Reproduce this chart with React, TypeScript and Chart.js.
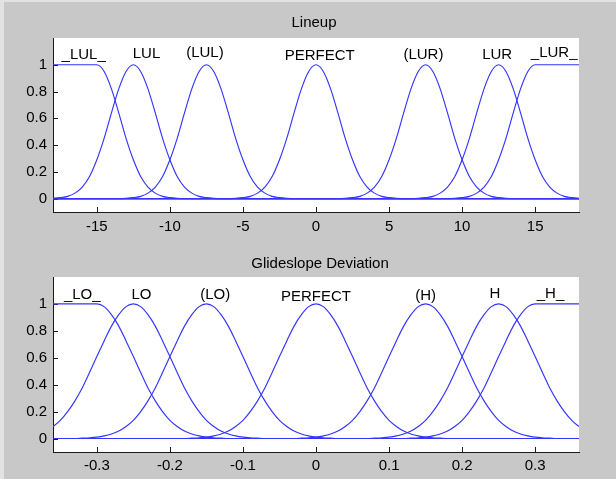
import React, { useEffect, useRef } from "react";
import { Chart, registerables } from "chart.js";

Chart.register(...registerables);

// ---------- shared y axis ----------
const yRange = [-0.1, 1.2];
const yTicks = [0, 0.2, 0.4, 0.6, 0.8, 1];
const yTickLabels = ["0", "0.2", "0.4", "0.6", "0.8", "1"];

// ---------- Lineup ----------
const lineupTitle = "Lineup";
const lineupRange = [-18, 18];
const lineupTicks = [-15, -10, -5, 0, 5, 10, 15];
const lineupTickLabels = ["-15", "-10", "-5", "0", "5", "10", "15"];
const lineupNames = ["_LUL_", "LUL", "(LUL)", "PERFECT", "(LUR)", "LUR", "_LUR_"];
const lineupCenters = [-15, -12.5, -7.5, 0, 7.5, 12.5, 15];
const lineupShapes = ["left", "bell", "bell", "bell", "bell", "bell", "right"];
const lineupLabelX = [-15.9, -11.6, -7.6, 0.25, 7.35, 12.4, 16.3];
const lineupLabelY = [1.044, 1.052, 1.055, 1.035, 1.044, 1.044, 1.055];
// membership value read at distances from the peak
const lineupOffsets = [0, 0.5, 1, 1.5, 2, 2.5, 3, 3.5, 4, 4.5, 5, 5.5, 6];
const lineupProfile = [1, 0.95, 0.82, 0.64, 0.45, 0.29, 0.165, 0.086, 0.041, 0.017, 0.007, 0.002, 0];

// ---------- Glideslope Deviation ----------
const glideTitle = "Glideslope Deviation";
const glideRange = [-0.36, 0.36];
const glideTicks = [-0.3, -0.2, -0.1, 0, 0.1, 0.2, 0.3];
const glideTickLabels = ["-0.3", "-0.2", "-0.1", "0", "0.1", "0.2", "0.3"];
const glideNames = ["_LO_", "LO", "(LO)", "PERFECT", "(H)", "H", "_H_"];
const glideCenters = [-0.3, -0.25, -0.15, 0, 0.15, 0.25, 0.3];
const glideShapes = ["left", "bell", "bell", "bell", "bell", "bell", "right"];
const glideLabelX = [-0.32, -0.239, -0.138, 0.0, 0.15, 0.245, 0.321];
const glideLabelY = [1.037, 1.037, 1.04, 1.019, 1.032, 1.045, 1.045];
const glideOffsets = [0, 0.01, 0.02, 0.03, 0.04, 0.05, 0.06, 0.07, 0.08, 0.09, 0.1, 0.11, 0.12, 0.13, 0.14, 0.15, 0.16, 0.17, 0.18];
const glideProfile = [1, 0.98, 0.92, 0.835, 0.725, 0.61, 0.49, 0.375, 0.28, 0.2, 0.135, 0.09, 0.056, 0.034, 0.02, 0.011, 0.006, 0.003, 0];

const FONT = '"Liberation Sans", Arial, Helvetica, sans-serif';
const LINE = "rgb(52,52,255)";
const AXIS = "#1a1a1a";
const BG = "#c8c8c8";

type Pt = { x: number; y: number };

function mfPoints(center: number, shape: string, offsets: number[], profile: number[], range: number[]): Pt[] {
  const [lo, hi] = range;
  const n = offsets.length;
  const core: Pt[] = [];
  if (shape === "left") {
    core.push({ x: lo, y: 1 });
    for (let i = 0; i < n; i++) core.push({ x: center + offsets[i], y: profile[i] });
  } else if (shape === "right") {
    for (let i = n - 1; i >= 0; i--) core.push({ x: center - offsets[i], y: profile[i] });
    core.push({ x: hi, y: 1 });
  } else {
    for (let i = n - 1; i >= 1; i--) core.push({ x: center - offsets[i], y: profile[i] });
    for (let i = 0; i < n; i++) core.push({ x: center + offsets[i], y: profile[i] });
  }
  const pts: Pt[] = [];
  if (core[0].x > lo) pts.push({ x: lo, y: core[0].y });
  pts.push(...core);
  if (core[core.length - 1].x < hi) pts.push({ x: hi, y: core[core.length - 1].y });
  return pts;
}

type Cfg = {
  title: string;
  titleX: number;
  titleY: number;
  range: number[];
  ticks: number[];
  tickLabels: string[];
  names: string[];
  centers: number[];
  shapes: string[];
  labelX: number[];
  labelY: number[];
  offsets: number[];
  profile: number[];
  xPad: number;
  padTop: number;
  xAxisH: number;
  height: number;
};

function MfChart({ cfg }: { cfg: Cfg }) {
  const ref = useRef<HTMLCanvasElement | null>(null);
  useEffect(() => {
    if (!ref.current) return;
    const datasets = cfg.centers.map((c, i) => ({
      label: cfg.names[i],
      data: mfPoints(c, cfg.shapes[i], cfg.offsets, cfg.profile, cfg.range),
      borderColor: LINE,
      borderWidth: 1.15,
      pointRadius: 0,
      fill: false,
      cubicInterpolationMode: "monotone" as const,
    }));
    const deco = {
      id: "deco",
      beforeDraw(chart: any) {
        const { ctx, chartArea } = chart;
        ctx.save();
        ctx.fillStyle = "#ffffff";
        ctx.fillRect(chartArea.left, chartArea.top, chartArea.right - chartArea.left, chartArea.bottom - chartArea.top);
        ctx.restore();
      },
      beforeDatasetsDraw(chart: any) {
        const { ctx, chartArea, scales } = chart;
        ctx.save();
        ctx.strokeStyle = AXIS;
        ctx.lineWidth = 1;
        ctx.beginPath();
        cfg.ticks.forEach((v) => {
          const px = Math.round(scales.x.getPixelForValue(v)) + 0.5;
          ctx.moveTo(px, chartArea.bottom);
          ctx.lineTo(px, chartArea.bottom - 5);
        });
        yTicks.forEach((v) => {
          const py = Math.round(scales.y.getPixelForValue(v)) + 0.5;
          ctx.moveTo(chartArea.left, py);
          ctx.lineTo(chartArea.left + 5, py);
        });
        ctx.stroke();
        ctx.restore();
      },
      afterDraw(chart: any) {
        const { ctx, scales } = chart;
        ctx.save();
        ctx.fillStyle = "#000000";
        ctx.font = `15px ${FONT}`;
        ctx.textAlign = "center";
        ctx.textBaseline = "alphabetic";
        ctx.fillText(cfg.title, cfg.titleX, cfg.titleY);
        cfg.names.forEach((name, i) => {
          ctx.fillText(name, scales.x.getPixelForValue(cfg.labelX[i]), scales.y.getPixelForValue(cfg.labelY[i]));
        });
        ctx.restore();
      },
    };
    const chart = new Chart(ref.current, {
      type: "line",
      data: { datasets },
      plugins: [deco],
      options: {
        animation: false,
        responsive: false,
        maintainAspectRatio: false,
        events: [],
        layout: { padding: { top: cfg.padTop, right: 37, left: 0, bottom: 0 } },
        plugins: { legend: { display: false }, tooltip: { enabled: false }, title: { display: false } },
        scales: {
          x: {
            type: "linear",
            min: cfg.range[0],
            max: cfg.range[1],
            afterBuildTicks: (s: any) => {
              s.ticks = cfg.ticks.map((v) => ({ value: v }));
            },
            afterFit: (s: any) => {
              s.height = cfg.xAxisH;
            },
            ticks: {
              autoSkip: false,
              maxRotation: 0,
              minRotation: 0,
              padding: cfg.xPad,
              color: "#000",
              font: { family: FONT, size: 15 },
              callback: (_v: any, i: number) => cfg.tickLabels[i],
            },
            grid: { display: false, drawTicks: false },
            border: { display: true, color: AXIS, width: 1 },
          },
          y: {
            type: "linear",
            min: yRange[0],
            max: yRange[1],
            afterBuildTicks: (s: any) => {
              s.ticks = yTicks.map((v) => ({ value: v }));
            },
            afterFit: (s: any) => {
              s.width = 53;
            },
            ticks: {
              autoSkip: false,
              padding: 6,
              color: "#000",
              font: { family: FONT, size: 15 },
              callback: (_v: any, i: number) => yTickLabels[i],
            },
            grid: { display: false, drawTicks: false },
            border: { display: true, color: AXIS, width: 1 },
          },
        },
      },
    });
    return () => chart.destroy();
  }, [cfg]);
  return <canvas ref={ref} width={616} height={cfg.height} style={{ display: "block", width: 616, height: cfg.height }} />;
}

const topCfg: Cfg = {
  title: lineupTitle,
  titleX: 314,
  titleY: 26.7,
  range: lineupRange,
  ticks: lineupTicks,
  tickLabels: lineupTickLabels,
  names: lineupNames,
  centers: lineupCenters,
  shapes: lineupShapes,
  labelX: lineupLabelX,
  labelY: lineupLabelY,
  offsets: lineupOffsets,
  profile: lineupProfile,
  xPad: 6,
  padTop: 38,
  xAxisH: 28,
  height: 240,
};

const bottomCfg: Cfg = {
  title: glideTitle,
  titleX: 320,
  titleY: 28,
  range: glideRange,
  ticks: glideTicks,
  tickLabels: glideTickLabels,
  names: glideNames,
  centers: glideCenters,
  shapes: glideShapes,
  labelX: glideLabelX,
  labelY: glideLabelY,
  offsets: glideOffsets,
  profile: glideProfile,
  xPad: 5,
  padTop: 37,
  xAxisH: 27,
  height: 239,
};

export default function App() {
  useEffect(() => {
    document.body.style.margin = "0";
    document.body.style.background = BG;
  }, []);
  return (
    <div style={{ position: "relative", width: 616, height: 479, background: BG, overflow: "hidden" }}>
      <div style={{ position: "absolute", left: 0, top: 0, width: 4, height: 479, background: "#e2e2e2" }} />
      <div style={{ position: "absolute", left: 0, top: 0, width: 616, height: 2, background: "#e2e2e2" }} />
      <div style={{ position: "absolute", left: 0, top: 0 }}>
        <MfChart cfg={topCfg} />
      </div>
      <div style={{ position: "absolute", left: 0, top: 240 }}>
        <MfChart cfg={bottomCfg} />
      </div>
    </div>
  );
}
